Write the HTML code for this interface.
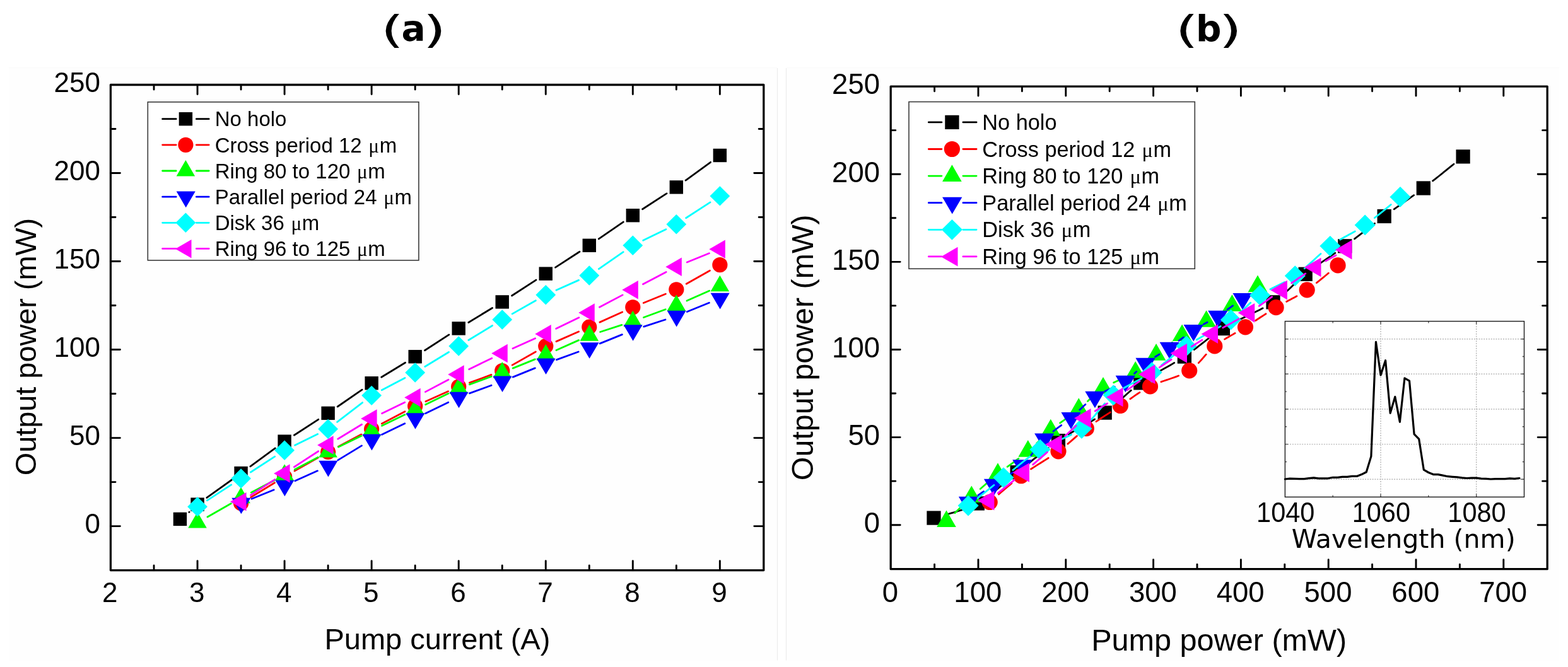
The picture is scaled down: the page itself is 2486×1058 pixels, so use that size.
<!DOCTYPE html>
<html lang="en"><head><meta charset="utf-8"><title>Output power vs pump current and pump power</title>
<style>html,body{margin:0;padding:0;background:#fff;}body{width:2486px;height:1058px;overflow:hidden;}svg{display:block;}text{fill:#000;}</style></head><body>
<svg width="2486" height="1058" viewBox="0 0 2486 1058" role="img" aria-label="Output power versus pump current (a) and pump power (b)">
<rect width="2486" height="1058" fill="#fff"/>
<rect x="14" y="107.5" width="1218.5" height="940" fill="#fefefe"/>
<rect x="1246.5" y="107.5" width="1225" height="940" fill="#fefefe"/>
<path d="M1232.5 108V1047.5M1246.5 108V1047.5" stroke="#ececec" stroke-width="1.2" fill="none"/>
<path d="M14 107.5H1232M1247 107.5H2472" stroke="#fafafa" stroke-width="1" fill="none"/>
<g>
<text transform="translate(603.45 67.88) scale(1.6726 1.0690)" font-family="'DejaVu Sans',sans-serif" font-size="56.6">(</text>
<text x="636.5" y="65.2" font-family="'DejaVu Sans',sans-serif" font-weight="bold" font-size="56.6">a</text>
<text transform="translate(670.53 67.88) scale(1.6726 1.0690)" font-family="'DejaVu Sans',sans-serif" font-size="56.6">)</text>
</g>
<g>
<text transform="translate(1863.35 67.88) scale(1.6726 1.0690)" font-family="'DejaVu Sans',sans-serif" font-size="56.6">(</text>
<text x="1896.1" y="65.2" font-family="'DejaVu Sans',sans-serif" font-weight="bold" font-size="56.6">b</text>
<text transform="translate(1932.33 67.88) scale(1.6726 1.0690)" font-family="'DejaVu Sans',sans-serif" font-size="56.6">)</text>
</g>
<path d="M313.05 904.1V889.6M313.05 135V149.5M451.1 904.1V889.6M451.1 135V149.5M589.15 904.1V889.6M589.15 135V149.5M727.2 904.1V889.6M727.2 135V149.5M865.25 904.1V889.6M865.25 135V149.5M1003.3 904.1V889.6M1003.3 135V149.5M1141.35 904.1V889.6M1141.35 135V149.5M244.03 904.1V897M244.03 135V142.1M382.08 904.1V897M382.08 135V142.1M520.12 904.1V897M520.12 135V142.1M658.18 904.1V897M658.18 135V142.1M796.23 904.1V897M796.23 135V142.1M934.28 904.1V897M934.28 135V142.1M1072.33 904.1V897M1072.33 135V142.1M175.9 834.6H190.4M1210.3 834.6H1195.8M175.9 694.58H190.4M1210.3 694.58H1195.8M175.9 554.55H190.4M1210.3 554.55H1195.8M175.9 414.53H190.4M1210.3 414.53H1195.8M175.9 274.5H190.4M1210.3 274.5H1195.8M175.9 764.59H183M1210.3 764.59H1203.2M175.9 624.56H183M1210.3 624.56H1203.2M175.9 484.54H183M1210.3 484.54H1203.2M175.9 344.51H183M1210.3 344.51H1203.2M175.9 204.49H183M1210.3 204.49H1203.2" stroke="#000" stroke-width="2.9" fill="none" stroke-linecap="round"/>
<rect x="175.4" y="134.5" width="1035.4" height="770.1" fill="none" stroke="#000" stroke-width="3.3" stroke-linejoin="round"/>
<text x="159" y="846.4" font-family="'Liberation Sans',sans-serif" font-size="44" text-anchor="end">0</text>
<text x="159" y="706.38" font-family="'Liberation Sans',sans-serif" font-size="44" text-anchor="end">50</text>
<text x="159" y="566.35" font-family="'Liberation Sans',sans-serif" font-size="44" text-anchor="end">100</text>
<text x="159" y="426.33" font-family="'Liberation Sans',sans-serif" font-size="44" text-anchor="end">150</text>
<text x="159" y="286.3" font-family="'Liberation Sans',sans-serif" font-size="44" text-anchor="end">200</text>
<text x="159" y="146.28" font-family="'Liberation Sans',sans-serif" font-size="44" text-anchor="end">250</text>
<text x="174.2" y="955" font-family="'Liberation Sans',sans-serif" font-size="44" text-anchor="middle">2</text>
<text x="312.25" y="955" font-family="'Liberation Sans',sans-serif" font-size="44" text-anchor="middle">3</text>
<text x="450.3" y="955" font-family="'Liberation Sans',sans-serif" font-size="44" text-anchor="middle">4</text>
<text x="588.35" y="955" font-family="'Liberation Sans',sans-serif" font-size="44" text-anchor="middle">5</text>
<text x="726.4" y="955" font-family="'Liberation Sans',sans-serif" font-size="44" text-anchor="middle">6</text>
<text x="864.45" y="955" font-family="'Liberation Sans',sans-serif" font-size="44" text-anchor="middle">7</text>
<text x="1002.5" y="955" font-family="'Liberation Sans',sans-serif" font-size="44" text-anchor="middle">8</text>
<text x="1140.55" y="955" font-family="'Liberation Sans',sans-serif" font-size="44" text-anchor="middle">9</text>
<text x="693.4" y="1029.6" font-family="'Liberation Sans',sans-serif" font-size="47" text-anchor="middle">Pump current (A)</text>
<g transform="translate(56.7 550) rotate(-90)">
<text x="0" y="0" font-family="'Liberation Sans',sans-serif" font-size="46.8" text-anchor="middle">Output power (mW)</text>
</g>
<path d="M299.85 812.38l0.3 -0.2M327.91 789.48L367.21 761.26M396.85 739.79L436.32 710.97M466.45 690.21L504.78 665.33M535.19 644.98L574.09 618.15M604.78 598.25L642.54 575.27M673.52 555.79L711.85 530.91M742.83 511.43L780.59 488.45M811.57 468.97L849.9 444.09M880.6 424.16L918.93 399.28M949.34 378.93L988.24 352.1M1018.65 331.75L1056.98 306.87M1087.1 286.11L1126.57 257.29" stroke="#000000" stroke-width="2.8" fill="none" stroke-linecap="round"/>
<g><rect x="274.74" y="812.7" width="21.4" height="21.4" fill="#000000"/><rect x="302.35" y="789.45" width="21.4" height="21.4" fill="#000000"/><rect x="371.38" y="739.88" width="21.4" height="21.4" fill="#000000"/><rect x="440.4" y="689.48" width="21.4" height="21.4" fill="#000000"/><rect x="509.43" y="644.67" width="21.4" height="21.4" fill="#000000"/><rect x="578.45" y="597.06" width="21.4" height="21.4" fill="#000000"/><rect x="647.48" y="555.05" width="21.4" height="21.4" fill="#000000"/><rect x="716.5" y="510.24" width="21.4" height="21.4" fill="#000000"/><rect x="785.52" y="468.24" width="21.4" height="21.4" fill="#000000"/><rect x="854.55" y="423.43" width="21.4" height="21.4" fill="#000000"/><rect x="923.58" y="378.62" width="21.4" height="21.4" fill="#000000"/><rect x="992.6" y="331.01" width="21.4" height="21.4" fill="#000000"/><rect x="1061.62" y="286.2" width="21.4" height="21.4" fill="#000000"/><rect x="1130.65" y="235.8" width="21.4" height="21.4" fill="#000000"/></g>
<path d="M397.71 788.68L435.47 765.7M467.01 747.15L504.21 726.02M536.31 708.44L572.96 689.11M605.34 672.04L641.99 652.7M674.89 636.71L710.49 620.82M744.39 607.08L779.04 594.43M812.14 579.12L849.34 557.99M882.01 541.6L917.51 526.05M950.94 511.13L986.64 494.91M1020.26 480.46L1055.37 466.21M1088.24 450.29L1125.44 429.16" stroke="#ff0000" stroke-width="2.8" fill="none" stroke-linecap="round"/>
<g><circle cx="382.08" cy="798.19" r="12.1" fill="#ff0000"/><circle cx="451.1" cy="756.19" r="12.1" fill="#ff0000"/><circle cx="520.12" cy="716.98" r="12.1" fill="#ff0000"/><circle cx="589.15" cy="680.57" r="12.1" fill="#ff0000"/><circle cx="658.18" cy="644.17" r="12.1" fill="#ff0000"/><circle cx="727.2" cy="613.36" r="12.1" fill="#ff0000"/><circle cx="796.23" cy="588.16" r="12.1" fill="#ff0000"/><circle cx="865.25" cy="548.95" r="12.1" fill="#ff0000"/><circle cx="934.28" cy="518.7" r="12.1" fill="#ff0000"/><circle cx="1003.3" cy="487.34" r="12.1" fill="#ff0000"/><circle cx="1072.33" cy="459.33" r="12.1" fill="#ff0000"/><circle cx="1141.35" cy="420.13" r="12.1" fill="#ff0000"/></g>
<path d="M328.96 819.96L366.16 798.83M398.26 781.25L434.91 761.92M467.29 744.85L503.94 725.52M536.58 708.97L572.7 691.38M605.6 675.36L641.72 657.78M674.63 641.76L710.75 624.17M744.39 609.88L779.04 597.23M813.18 584.08L848.29 569.83M881.96 555.49L917.56 539.6M951.68 526.5L985.89 515.39M1020.49 503.47L1055.14 490.81M1089.04 477.08L1124.64 461.19" stroke="#00ff00" stroke-width="2.8" fill="none" stroke-linecap="round"/>
<g><polygon points="313.05,811.93 327.8,837.53 298.3,837.53" fill="#00ff00"/><polygon points="382.08,772.73 396.83,798.33 367.33,798.33" fill="#00ff00"/><polygon points="451.1,736.32 465.85,761.92 436.35,761.92" fill="#00ff00"/><polygon points="520.12,699.91 534.88,725.51 505.38,725.51" fill="#00ff00"/><polygon points="589.15,666.31 603.9,691.91 574.4,691.91" fill="#00ff00"/><polygon points="658.18,632.7 672.93,658.3 643.43,658.3" fill="#00ff00"/><polygon points="727.2,599.09 741.95,624.69 712.45,624.69" fill="#00ff00"/><polygon points="796.23,573.89 810.98,599.49 781.48,599.49" fill="#00ff00"/><polygon points="865.25,545.88 880,571.48 850.5,571.48" fill="#00ff00"/><polygon points="934.28,515.08 949.03,540.68 919.53,540.68" fill="#00ff00"/><polygon points="1003.3,492.68 1018.05,518.28 988.55,518.28" fill="#00ff00"/><polygon points="1072.33,467.47 1087.08,493.07 1057.58,493.07" fill="#00ff00"/><polygon points="1141.35,436.67 1156.1,462.27 1126.6,462.27" fill="#00ff00"/></g>
<path d="M399.03 791.31L434.14 777.07M467.81 762.73L503.41 746.84M535.76 729.87L573.52 706.89M605.6 689.36L641.72 671.78M674.63 655.76L710.75 638.17M744.39 623.89L779.04 611.24M813.18 598.08L848.29 583.83M882.44 570.68L917.09 558.03M951.23 544.87L986.34 530.62M1020.71 518.09L1054.92 506.99M1089.28 494.46L1124.39 480.22" stroke="#0000ff" stroke-width="2.8" fill="none" stroke-linecap="round"/>
<g><polygon points="382.38,815.26 397.43,789.66 367.33,789.66" fill="#0000ff"/><polygon points="451.4,787.26 466.45,761.66 436.35,761.66" fill="#0000ff"/><polygon points="520.42,756.45 535.47,730.85 505.37,730.85" fill="#0000ff"/><polygon points="589.45,714.44 604.5,688.84 574.4,688.84" fill="#0000ff"/><polygon points="658.48,680.84 673.52,655.24 643.43,655.24" fill="#0000ff"/><polygon points="727.5,647.23 742.55,621.63 712.45,621.63" fill="#0000ff"/><polygon points="796.52,622.03 811.57,596.43 781.48,596.43" fill="#0000ff"/><polygon points="865.55,594.02 880.6,568.42 850.5,568.42" fill="#0000ff"/><polygon points="934.58,568.82 949.62,543.22 919.53,543.22" fill="#0000ff"/><polygon points="1003.6,540.81 1018.65,515.21 988.55,515.21" fill="#0000ff"/><polygon points="1072.62,518.41 1087.67,492.81 1057.58,492.81" fill="#0000ff"/><polygon points="1141.65,490.4 1156.7,464.8 1126.6,464.8" fill="#0000ff"/></g>
<path d="M328.4 793.83L366.73 768.95M397.42 749.02L435.75 724.14M467.55 706.17L503.67 688.58M534.62 669.4L574.66 638.54M605.34 618.83L641.99 599.49M673.81 581.44L711.57 558.46M742.83 539.44L780.59 516.46M812.14 497.9L849.34 476.77M881.96 460.28L917.56 444.39M949.34 426.54L988.24 399.71M1019.75 381.31L1055.87 363.73M1087.67 345.75L1126 320.87" stroke="#00ffff" stroke-width="2.8" fill="none" stroke-linecap="round"/>
<g><polygon points="313.05,788.09 328.95,803.79 313.05,819.49 297.15,803.79" fill="#00ffff"/><polygon points="382.08,743.29 397.98,758.99 382.08,774.69 366.18,758.99" fill="#00ffff"/><polygon points="451.1,698.48 467,714.18 451.1,729.88 435.2,714.18" fill="#00ffff"/><polygon points="520.12,664.87 536.02,680.57 520.12,696.27 504.23,680.57" fill="#00ffff"/><polygon points="589.15,611.66 605.05,627.36 589.15,643.06 573.25,627.36" fill="#00ffff"/><polygon points="658.18,575.26 674.08,590.96 658.18,606.66 642.28,590.96" fill="#00ffff"/><polygon points="727.2,533.25 743.1,548.95 727.2,564.65 711.3,548.95" fill="#00ffff"/><polygon points="796.23,491.24 812.12,506.94 796.23,522.64 780.33,506.94" fill="#00ffff"/><polygon points="865.25,452.03 881.15,467.73 865.25,483.43 849.35,467.73" fill="#00ffff"/><polygon points="934.28,421.23 950.18,436.93 934.28,452.63 918.38,436.93" fill="#00ffff"/><polygon points="1003.3,373.62 1019.2,389.32 1003.3,405.02 987.4,389.32" fill="#00ffff"/><polygon points="1072.33,340.01 1088.23,355.71 1072.33,371.41 1056.42,355.71" fill="#00ffff"/><polygon points="1141.35,295.21 1157.25,310.91 1141.35,326.61 1125.45,310.91" fill="#00ffff"/></g>
<path d="M397.42 785.43L435.75 760.55M466.45 740.62L504.78 715.74M535.76 696.26L573.52 673.28M605.6 655.76L641.72 638.17M674.36 621.63L711.01 602.29M743.65 585.75L779.77 568.16M812.94 552.69L848.54 536.8M881.7 521.33L917.82 503.75M950.46 487.2L987.11 467.87M1019.49 450.8L1056.14 431.46M1089.28 416.05L1124.39 401.8" stroke="#ff00ff" stroke-width="2.8" fill="none" stroke-linecap="round"/>
<g><polygon points="365.07,795.69 390.57,780.94 390.57,810.44" fill="#ff00ff"/><polygon points="434.09,750.88 459.59,736.13 459.59,765.63" fill="#ff00ff"/><polygon points="503.12,706.08 528.62,691.33 528.62,720.83" fill="#ff00ff"/><polygon points="572.14,664.07 597.64,649.32 597.64,678.82" fill="#ff00ff"/><polygon points="641.17,630.46 666.67,615.71 666.67,645.21" fill="#ff00ff"/><polygon points="710.19,594.06 735.69,579.31 735.69,608.81" fill="#ff00ff"/><polygon points="779.22,560.45 804.72,545.7 804.72,575.2" fill="#ff00ff"/><polygon points="848.24,529.65 873.74,514.9 873.74,544.4" fill="#ff00ff"/><polygon points="917.27,496.04 942.77,481.29 942.77,510.79" fill="#ff00ff"/><polygon points="986.29,459.63 1011.79,444.88 1011.79,474.38" fill="#ff00ff"/><polygon points="1055.32,423.23 1080.82,408.48 1080.82,437.98" fill="#ff00ff"/><polygon points="1124.34,395.22 1149.84,380.47 1149.84,409.97" fill="#ff00ff"/></g>
<rect x="234.3" y="161.8" width="429.6" height="251.1" fill="#fff" stroke="#3a3a3a" stroke-width="1.6"/>
<path d="M257.6 188.7H279.2M311.3 188.7H331.2" stroke="#000000" stroke-width="2.8" fill="none" stroke-linecap="round"/>
<rect x="283.7" y="178" width="21.4" height="21.4" fill="#000000"/>
<text transform="translate(340.7 200.4) scale(1 1.0000)" font-family="'Liberation Sans',sans-serif" font-size="33" xml:space="preserve">No holo</text>
<path d="M257.6 229.85H279.2M311.3 229.85H331.2" stroke="#ff0000" stroke-width="2.8" fill="none" stroke-linecap="round"/>
<circle cx="294.4" cy="229.85" r="12.1" fill="#ff0000"/>
<text transform="translate(340.7 241.55) scale(1 1.0000)" font-family="'Liberation Sans',sans-serif" font-size="33" xml:space="preserve">Cross period 12 <tspan dx="1.5" font-family="'Liberation Serif','DejaVu Serif',serif" font-size="31.35">μ</tspan><tspan dx="0.5">m</tspan></text>
<path d="M257.6 271H279.2M311.3 271H331.2" stroke="#00ff00" stroke-width="2.8" fill="none" stroke-linecap="round"/>
<polygon points="294.4,253.93 309.15,279.53 279.65,279.53" fill="#00ff00"/>
<text transform="translate(340.7 282.7) scale(1 1.0000)" font-family="'Liberation Sans',sans-serif" font-size="33" xml:space="preserve">Ring 80 to 120 <tspan dx="1.5" font-family="'Liberation Serif','DejaVu Serif',serif" font-size="31.35">μ</tspan><tspan dx="0.5">m</tspan></text>
<path d="M257.6 312.15H279.2M311.3 312.15H331.2" stroke="#0000ff" stroke-width="2.8" fill="none" stroke-linecap="round"/>
<polygon points="294.7,329.22 309.75,303.62 279.65,303.62" fill="#0000ff"/>
<text transform="translate(340.7 323.85) scale(1 1.0000)" font-family="'Liberation Sans',sans-serif" font-size="33" xml:space="preserve">Parallel period 24 <tspan dx="1.5" font-family="'Liberation Serif','DejaVu Serif',serif" font-size="31.35">μ</tspan><tspan dx="0.5">m</tspan></text>
<path d="M257.6 353.3H279.2M311.3 353.3H331.2" stroke="#00ffff" stroke-width="2.8" fill="none" stroke-linecap="round"/>
<polygon points="294.4,337.6 310.3,353.3 294.4,369 278.5,353.3" fill="#00ffff"/>
<text transform="translate(340.7 365) scale(1 1.0000)" font-family="'Liberation Sans',sans-serif" font-size="33" xml:space="preserve">Disk 36 <tspan dx="1.5" font-family="'Liberation Serif','DejaVu Serif',serif" font-size="31.35">μ</tspan><tspan dx="0.5">m</tspan></text>
<path d="M257.6 394.45H279.2M311.3 394.45H331.2" stroke="#ff00ff" stroke-width="2.8" fill="none" stroke-linecap="round"/>
<polygon points="277.99,394.75 303.49,380 303.49,409.5" fill="#ff00ff"/>
<text transform="translate(340.7 406.15) scale(1 1.0000)" font-family="'Liberation Sans',sans-serif" font-size="33" xml:space="preserve">Ring 96 to 125 <tspan dx="1.5" font-family="'Liberation Serif','DejaVu Serif',serif" font-size="31.35">μ</tspan><tspan dx="0.5">m</tspan></text>
<path d="M1551 902.2V887.7M1551 137.6V152.1M1689.8 902.2V887.7M1689.8 137.6V152.1M1828.6 902.2V887.7M1828.6 137.6V152.1M1967.4 902.2V887.7M1967.4 137.6V152.1M2106.2 902.2V887.7M2106.2 137.6V152.1M2245 902.2V887.7M2245 137.6V152.1M2383.8 902.2V887.7M2383.8 137.6V152.1M1481.6 902.2V895.1M1481.6 137.6V144.7M1620.4 902.2V895.1M1620.4 137.6V144.7M1759.2 902.2V895.1M1759.2 137.6V144.7M1898 902.2V895.1M1898 137.6V144.7M2036.8 902.2V895.1M2036.8 137.6V144.7M2175.6 902.2V895.1M2175.6 137.6V144.7M2314.4 902.2V895.1M2314.4 137.6V144.7M1412.7 832.7H1427.2M2452.7 832.7H2438.2M1412.7 693.58H1427.2M2452.7 693.58H2438.2M1412.7 554.46H1427.2M2452.7 554.46H2438.2M1412.7 415.34H1427.2M2452.7 415.34H2438.2M1412.7 276.22H1427.2M2452.7 276.22H2438.2M1412.7 763.14H1419.8M2452.7 763.14H2445.6M1412.7 624.02H1419.8M2452.7 624.02H2445.6M1412.7 484.9H1419.8M2452.7 484.9H2445.6M1412.7 345.78H1419.8M2452.7 345.78H2445.6M1412.7 206.66H1419.8M2452.7 206.66H2445.6" stroke="#000" stroke-width="2.9" fill="none" stroke-linecap="round"/>
<rect x="1412.2" y="137.1" width="1041" height="765.6" fill="none" stroke="#000" stroke-width="3.3" stroke-linejoin="round"/>
<text x="1395" y="845" font-family="'Liberation Sans',sans-serif" font-size="45.5" text-anchor="end">0</text>
<text x="1395" y="705.88" font-family="'Liberation Sans',sans-serif" font-size="45.5" text-anchor="end">50</text>
<text x="1395" y="566.76" font-family="'Liberation Sans',sans-serif" font-size="45.5" text-anchor="end">100</text>
<text x="1395" y="427.64" font-family="'Liberation Sans',sans-serif" font-size="45.5" text-anchor="end">150</text>
<text x="1395" y="288.52" font-family="'Liberation Sans',sans-serif" font-size="45.5" text-anchor="end">200</text>
<text x="1395" y="149.4" font-family="'Liberation Sans',sans-serif" font-size="45.5" text-anchor="end">250</text>
<text x="1411.5" y="954.6" font-family="'Liberation Sans',sans-serif" font-size="45.5" text-anchor="middle">0</text>
<text x="1550.3" y="954.6" font-family="'Liberation Sans',sans-serif" font-size="45.5" text-anchor="middle">100</text>
<text x="1689.1" y="954.6" font-family="'Liberation Sans',sans-serif" font-size="45.5" text-anchor="middle">200</text>
<text x="1827.9" y="954.6" font-family="'Liberation Sans',sans-serif" font-size="45.5" text-anchor="middle">300</text>
<text x="1966.7" y="954.6" font-family="'Liberation Sans',sans-serif" font-size="45.5" text-anchor="middle">400</text>
<text x="2105.5" y="954.6" font-family="'Liberation Sans',sans-serif" font-size="45.5" text-anchor="middle">500</text>
<text x="2244.3" y="954.6" font-family="'Liberation Sans',sans-serif" font-size="45.5" text-anchor="middle">600</text>
<text x="2383.1" y="954.6" font-family="'Liberation Sans',sans-serif" font-size="45.5" text-anchor="middle">700</text>
<text x="1932.65" y="1032" font-family="'Liberation Sans',sans-serif" font-size="48.6" text-anchor="middle">Pump power (mW)</text>
<g transform="translate(1288.5 551.25) rotate(-90)">
<text x="0" y="0" font-family="'Liberation Sans',sans-serif" font-size="48.37" text-anchor="middle">Output power (mW)</text>
</g>
<path d="M1499 816.47L1503.54 815.25L1508.29 813.94L1513.2 812.53L1518.21 811.02L1523.26 809.41L1528.3 807.7L1532.29 806.26M1565.92 788.02L1569.85 785.05L1573.76 781.96L1577.64 778.79L1581.51 775.54L1585.37 772.24L1589.23 768.91L1593.09 765.56L1596.96 762.21L1598.13 761.21M1627.84 737.27L1631.82 734.09L1635.81 730.9L1639.8 727.71L1643.81 724.53L1647.85 721.35L1651.9 718.19L1655.99 715.04L1660.11 711.92L1662.19 710.36M1693.79 689.09L1698.52 686.3L1703.3 683.54L1708.11 680.8L1712.93 678.07L1717.74 675.35L1722.53 672.64L1727.27 669.92L1731.95 667.19L1735.63 665M1766.75 642.87L1770.22 639.86L1773.61 636.85L1776.95 633.83L1780.26 630.8L1783.56 627.78L1786.88 624.78L1790.23 621.79L1793.29 619.12M1824.12 597.09L1828.5 594.48L1832.93 591.9L1837.41 589.34L1841.92 586.79L1846.44 584.25L1850.96 581.71L1855.45 579.16L1859.91 576.6L1861.68 575.57M1893.32 554.59L1896.97 551.79L1900.59 548.98L1904.18 546.16L1907.78 543.33L1911.39 540.51L1915.04 537.68L1918.75 534.87L1922.54 532.07L1922.93 531.79M1955.6 511.81L1960.74 509.21L1965.99 506.63L1971.3 504.05L1976.64 501.49L1981.98 498.92L1987.28 496.35L1992.52 493.78L1997.65 491.2L2002.14 488.86M2033.68 467.85L2036.84 465.07L2039.88 462.29L2042.84 459.49L2045.74 456.69L2048.61 453.88L2051.49 451.07L2054.4 448.26L2055.28 447.42M2084.94 423.48L2088.82 420.72L2092.74 417.97L2096.71 415.21L2100.7 412.46L2104.71 409.69L2108.74 406.92L2112.77 404.14L2116.8 401.34M2147.53 378.9L2151.43 375.93L2155.34 372.94L2159.24 369.95L2163.14 366.95L2167.04 363.95L2170.94 360.95L2174.84 357.97L2178.74 354.99L2179.52 354.4M2210.23 331.8L2214.1 329.07L2217.98 326.34L2221.85 323.63L2225.72 320.91L2229.6 318.19L2233.47 315.46L2237.35 312.71L2241.23 309.93L2241.62 309.66M2271.66 286.96L2276.2 283.37L2280.77 279.73L2285.34 276.08L2289.86 272.45L2294.28 268.88L2298.55 265.43L2302.63 262.12L2304.97 260.22" stroke="#000000" stroke-width="2.8" fill="none" stroke-linejoin="round" stroke-linecap="round"/>
<g><rect x="1469.37" y="810.44" width="22.26" height="22.26" fill="#000000"/><rect x="1538.67" y="787.35" width="22.26" height="22.26" fill="#000000"/><rect x="1601.57" y="738.1" width="22.26" height="22.26" fill="#000000"/><rect x="1666.77" y="688.02" width="22.26" height="22.26" fill="#000000"/><rect x="1740.57" y="643.5" width="22.26" height="22.26" fill="#000000"/><rect x="1797.17" y="596.2" width="22.26" height="22.26" fill="#000000"/><rect x="1866.77" y="554.46" width="22.26" height="22.26" fill="#000000"/><rect x="1927.77" y="509.94" width="22.26" height="22.26" fill="#000000"/><rect x="2007.37" y="468.21" width="22.26" height="22.26" fill="#000000"/><rect x="2058.57" y="423.69" width="22.26" height="22.26" fill="#000000"/><rect x="2121.17" y="379.17" width="22.26" height="22.26" fill="#000000"/><rect x="2183.57" y="331.87" width="22.26" height="22.26" fill="#000000"/><rect x="2245.67" y="287.35" width="22.26" height="22.26" fill="#000000"/><rect x="2308.47" y="237.27" width="22.26" height="22.26" fill="#000000"/></g>
<path d="M1583.47 784.09L1586.67 781.29L1590.01 778.39L1593.48 775.41L1597.03 772.38L1600.64 769.33L1603.92 766.61M1634.5 744.05L1638.32 741.58L1642.19 739.12L1646.07 736.68L1649.95 734.24L1653.82 731.81L1657.65 729.4L1661.44 726.99L1662.19 726.51M1692.88 704.1L1695.53 701.85L1698.14 699.6L1700.73 697.36L1703.3 695.12L1705.89 692.89L1707.45 691.55M1738 668.64L1741.45 666.32L1744.92 664.01L1748.42 661.7L1751.92 659.4L1755.42 657.11L1758.91 654.84L1760.29 653.94M1791.89 632.74L1794.67 630.78L1797.44 628.84L1800.22 626.93L1803.02 625.03L1805.86 623.16L1807 622.41M1840.94 605.69L1845.04 604.27L1849.19 602.86L1853.37 601.46L1857.55 600.04L1861.69 598.6L1865.78 597.12L1868.59 596.05M1900.3 575.65L1902.68 573.1L1905 570.51L1907.27 567.9L1909.53 565.29L1911.78 562.68L1912.24 562.17M1941.6 538.14L1944.67 536.29L1947.75 534.47L1950.86 532.66L1953.99 530.88L1957.12 529.09L1958.06 528.56M1990.59 508.48L1993.62 506.5L1996.65 504.51L1999.68 502.53L2002.72 500.55L2005.75 498.58L2006.97 497.8M2039.64 478.46L2042.71 476.85L2045.79 475.23L2048.86 473.61L2051.94 471.96L2055.01 470.29L2055.93 469.78M2087.36 448.6L2090.92 445.78L2094.48 442.92L2097.99 440.06L2101.42 437.24L2104.75 434.49L2106.35 433.15" stroke="#ff0000" stroke-width="2.8" fill="none" stroke-linejoin="round" stroke-linecap="round"/>
<g><circle cx="1569.2" cy="796.53" r="12.58" fill="#ff0000"/><circle cx="1618.9" cy="754.79" r="12.58" fill="#ff0000"/><circle cx="1678" cy="715.84" r="12.58" fill="#ff0000"/><circle cx="1722.3" cy="679.67" r="12.58" fill="#ff0000"/><circle cx="1776.3" cy="643.5" r="12.58" fill="#ff0000"/><circle cx="1823.5" cy="612.89" r="12.58" fill="#ff0000"/><circle cx="1885.7" cy="587.85" r="12.58" fill="#ff0000"/><circle cx="1925.8" cy="548.9" r="12.58" fill="#ff0000"/><circle cx="1974.5" cy="518.85" r="12.58" fill="#ff0000"/><circle cx="2023.1" cy="487.68" r="12.58" fill="#ff0000"/><circle cx="2072.2" cy="459.86" r="12.58" fill="#ff0000"/><circle cx="2121.1" cy="420.9" r="12.58" fill="#ff0000"/></g>
<path d="M1513.99 813.7L1516.69 811.02L1519.48 808.25L1522.33 805.43L1525.23 802.59L1526.68 801.17M1554.26 775.54L1556.81 773.29L1559.37 771.04L1561.94 768.8L1564.53 766.57L1567.14 764.34L1567.4 764.11M1597.19 740.38L1600.31 738.1L1603.44 735.81L1606.57 733.52L1609.69 731.24L1612.78 728.97L1614.92 727.39M1643.79 703.11L1645.91 701.04L1648.01 698.97L1650.1 696.91L1651.77 695.26M1680.69 670.97L1683.55 668.89L1686.44 666.8L1689.33 664.71L1692.22 662.63L1695.1 660.54M1724.46 636.39L1726.73 634.22L1729 632.06L1731.29 629.92L1733.59 627.79L1734.06 627.37M1765.71 606.86L1769.12 605.34L1772.55 603.84L1775.99 602.36L1779.42 600.89L1782.8 599.42L1783.14 599.27M1815.23 578.97L1817.1 577.24L1818.94 575.5M1848.01 551.17L1850.63 549.16L1853.27 547.16L1855.92 545.16L1858.58 543.19M1890.31 522.43L1892.67 521.12L1895.04 519.81L1895.99 519.29M1929.02 500.24L1931.58 498.71L1934.15 497.17L1936.72 495.61L1937.5 495.14M1968.65 473.83L1971.6 471.59L1974.52 469.36L1977.38 467.16L1979.06 465.87" stroke="#00ff00" stroke-width="2.8" fill="none" stroke-linejoin="round" stroke-linecap="round"/>
<g><polygon points="1500.5,809.39 1515.84,836.01 1485.16,836.01" fill="#00ff00"/><polygon points="1540.3,770.43 1555.64,797.06 1524.96,797.06" fill="#00ff00"/><polygon points="1582,734.26 1597.34,760.89 1566.66,760.89" fill="#00ff00"/><polygon points="1629.8,698.09 1645.14,724.71 1614.46,724.71" fill="#00ff00"/><polygon points="1665.8,664.7 1681.14,691.33 1650.46,691.33" fill="#00ff00"/><polygon points="1710.3,631.31 1725.64,657.94 1694.96,657.94" fill="#00ff00"/><polygon points="1749,597.92 1764.34,624.55 1733.66,624.55" fill="#00ff00"/><polygon points="1800.2,572.88 1815.54,599.51 1784.86,599.51" fill="#00ff00"/><polygon points="1833.1,545.06 1848.44,571.68 1817.76,571.68" fill="#00ff00"/><polygon points="1874.14,514.45 1889.48,541.08 1858.8,541.08" fill="#00ff00"/><polygon points="1912.6,492.19 1927.94,518.82 1897.26,518.82" fill="#00ff00"/><polygon points="1953.4,467.15 1968.74,493.77 1938.06,493.77" fill="#00ff00"/><polygon points="1994,436.54 2009.34,463.17 1978.66,463.17" fill="#00ff00"/></g>
<path d="M1550.77 785.68L1553.54 783.75L1556.38 781.77L1559.28 779.76L1559.58 779.55M1591.18 758.64L1594.14 756.83L1597.09 755.01L1600.04 753.16L1602.98 751.28L1605.6 749.55M1633.29 723.98L1635.37 721.26L1637.42 718.51L1639.46 715.75L1641.51 712.99L1643.15 710.8M1669.93 684.06L1672.64 682L1675.37 679.96L1678.11 677.94L1680.84 675.93L1682.76 674.53M1711.87 650.09L1714.11 647.92L1716.36 645.76L1718.62 643.61L1720.9 641.49M1752.15 620.47L1755.37 618.95L1758.6 617.46L1761.83 615.98L1765.04 614.51L1767.26 613.48M1798.53 592.59L1800.35 590.81L1801.79 589.38M1831.6 566.03L1834.02 564.5L1836.47 562.98L1838.18 561.91M1869.19 540.48L1871.55 538.67L1873.92 536.87L1876.29 535.07L1876.53 534.89M1908.33 514.29L1910.74 512.98L1913.16 511.68L1914.12 511.16M1946.12 490.96L1948.97 488.92L1951.78 486.89L1954.53 484.9" stroke="#0000ff" stroke-width="2.8" fill="none" stroke-linejoin="round" stroke-linecap="round"/>
<g><polygon points="1535.5,814.28 1551.15,787.65 1519.85,787.65" fill="#0000ff"/><polygon points="1575.6,786.45 1591.25,759.83 1559.95,759.83" fill="#0000ff"/><polygon points="1620.9,755.85 1636.55,729.22 1605.25,729.22" fill="#0000ff"/><polygon points="1655.8,714.11 1671.45,687.49 1640.15,687.49" fill="#0000ff"/><polygon points="1698.1,680.72 1713.75,654.1 1682.45,654.1" fill="#0000ff"/><polygon points="1735.97,647.33 1751.62,620.71 1720.32,620.71" fill="#0000ff"/><polygon points="1784.3,622.29 1799.95,595.67 1768.65,595.67" fill="#0000ff"/><polygon points="1816.1,594.47 1831.75,567.84 1800.45,567.84" fill="#0000ff"/><polygon points="1854.3,569.43 1869.95,542.8 1838.65,542.8" fill="#0000ff"/><polygon points="1892.3,541.6 1907.95,514.98 1876.65,514.98" fill="#0000ff"/><polygon points="1930.9,519.34 1946.55,492.72 1915.25,492.72" fill="#0000ff"/><polygon points="1970.1,491.52 1985.75,464.9 1954.45,464.9" fill="#0000ff"/></g>
<path d="M1550.1 790.09L1553.7 787.2L1557.48 784.17L1561.4 781.04L1565.4 777.84L1569.46 774.6L1573.54 771.36L1575.97 769.43M1605.87 745.61L1609.41 742.71L1612.96 739.81L1616.52 736.92L1620.09 734.05L1623.69 731.2L1627.31 728.37L1630.95 725.59L1633.16 723.95M1665.71 704.19L1669.96 702.26L1674.25 700.39L1678.56 698.54L1682.86 696.7L1687.15 694.84L1691.41 692.93L1695.61 690.97L1698.51 689.54M1728.95 666.76L1732.03 663.33L1735.04 659.83L1738.01 656.27L1740.95 652.69L1743.89 649.11L1746.84 645.55L1749.83 642.05L1751.64 639.98M1780.95 616.03L1784.8 613.79L1788.68 611.61L1792.59 609.49L1796.52 607.4L1800.46 605.32L1804.38 603.25L1808.29 601.16L1809.85 600.31M1841.5 579.3L1844.78 576.7L1848.04 574.07L1851.3 571.44L1854.56 568.78L1857.86 566.12L1861.19 563.46L1864.59 560.79L1865.62 559.99M1897.19 538.92L1901.77 536.29L1906.43 533.65L1911.14 531.01L1915.86 528.38L1920.57 525.75L1925.24 523.13L1929.84 520.52L1934.34 517.92L1935.23 517.4M1966.54 495.26L1969.33 492.74L1972.04 490.23L1974.69 487.73L1977.3 485.26L1979.9 482.81L1982.51 480.39L1982.78 480.15M2013.95 458.76L2017.44 457.02L2020.96 455.31L2024.5 453.6L2028.06 451.87L2031.64 450.11L2035.22 448.3L2037.01 447.37M2068.26 425.72L2071.74 422.66L2075.21 419.53L2078.69 416.36L2082.17 413.16L2085.64 409.97L2089.12 406.8L2092.59 403.68L2093.98 402.45M2124.81 380.01L2128.26 378.03L2131.71 376.09L2135.16 374.19L2138.61 372.3L2142.06 370.4L2145.51 368.48L2148.27 366.91M2179.42 345.52L2183.47 342.33L2187.54 339.07L2191.58 335.81L2195.56 332.56L2199.42 329.39L2203.14 326.31L2205.28 324.54" stroke="#00ffff" stroke-width="2.8" fill="none" stroke-linejoin="round" stroke-linecap="round"/>
<g><polygon points="1535.1,785.77 1551.64,802.09 1535.1,818.42 1518.56,802.09" fill="#00ffff"/><polygon points="1591,741.25 1607.54,757.58 1591,773.9 1574.46,757.58" fill="#00ffff"/><polygon points="1649,696.73 1665.54,713.06 1649,729.38 1632.46,713.06" fill="#00ffff"/><polygon points="1714.9,663.34 1731.44,679.67 1714.9,696 1698.36,679.67" fill="#00ffff"/><polygon points="1765.2,610.47 1781.74,626.8 1765.2,643.13 1748.66,626.8" fill="#00ffff"/><polygon points="1826.06,574.3 1842.6,590.63 1826.06,606.96 1809.52,590.63" fill="#00ffff"/><polygon points="1881,532.57 1897.54,548.9 1881,565.22 1864.46,548.9" fill="#00ffff"/><polygon points="1951.5,490.83 1968.04,507.16 1951.5,523.49 1934.96,507.16" fill="#00ffff"/><polygon points="1997.6,451.88 2014.14,468.21 1997.6,484.53 1981.06,468.21" fill="#00ffff"/><polygon points="2053.3,421.27 2069.84,437.6 2053.3,453.93 2036.76,437.6" fill="#00ffff"/><polygon points="2108.9,373.97 2125.44,390.3 2108.9,406.63 2092.36,390.3" fill="#00ffff"/><polygon points="2164.2,340.58 2180.74,356.91 2164.2,373.24 2147.66,356.91" fill="#00ffff"/><polygon points="2220,296.06 2236.54,312.39 2220,328.72 2203.46,312.39" fill="#00ffff"/></g>
<path d="M1582.3 782.02L1585.93 779.14L1589.74 776.13L1593.67 773.01L1597.68 769.82L1601.73 766.58L1605.78 763.34L1608.19 761.4M1637.71 736.91L1640.99 734.1L1644.25 731.29L1647.5 728.48L1650.73 725.67L1653.95 722.88L1657.14 720.09L1660.31 717.31M1688.67 691.72L1691.5 689.03L1694.32 686.34L1697.12 683.68L1699.92 681.03L1702.73 678.41L1705.55 675.82L1706.11 675.31M1736.28 652.02L1739.47 649.96L1742.68 647.94L1745.91 645.93L1749.14 643.94L1752.37 641.94L1755.61 639.94M1787.28 618.62L1790.46 616.33L1793.63 614.03L1796.81 611.73L1799.98 609.43L1803.16 607.13L1806.33 604.83L1806.96 604.38M1838.38 582.68L1841.56 580.57L1844.73 578.46L1847.91 576.37L1851.08 574.29L1854.24 572.22L1857.09 570.37M1889.14 549.78L1892.11 547.9L1895.09 546.03L1898.07 544.16L1901.07 542.29L1904.1 540.41L1905.93 539.28M1938.83 519.9L1942.53 517.84L1946.26 515.78L1950.02 513.7L1953.78 511.61L1957.53 509.51L1961.28 507.4L1964.25 505.7M1996.3 485.38L1999.51 483.12L2002.69 480.85L2005.86 478.57L2009.01 476.29L2012.16 474L2015.32 471.71L2016.58 470.8M2047.74 448.98L2051.14 446.63L2054.54 444.29L2057.94 441.95L2061.34 439.63L2064.73 437.33L2068.11 435.05L2069.8 433.93M2101.82 414.05L2105.4 412.02L2108.94 410.03L2112.42 408.08L2115.81 406.21L2118.11 404.94" stroke="#ff00ff" stroke-width="2.8" fill="none" stroke-linejoin="round" stroke-linecap="round"/>
<g><polygon points="1549.86,794.05 1576.38,778.71 1576.38,809.39" fill="#ff00ff"/><polygon points="1605.46,749.53 1631.98,734.19 1631.98,764.87" fill="#ff00ff"/><polygon points="1656.96,705.01 1683.48,689.67 1683.48,720.35" fill="#ff00ff"/><polygon points="1703.06,663.27 1729.58,647.93 1729.58,678.61" fill="#ff00ff"/><polygon points="1754.06,629.88 1780.58,614.54 1780.58,645.22" fill="#ff00ff"/><polygon points="1804.86,593.71 1831.38,578.37 1831.38,609.05" fill="#ff00ff"/><polygon points="1855.46,560.32 1881.98,544.98 1881.98,575.66" fill="#ff00ff"/><polygon points="1904.56,529.72 1931.08,514.38 1931.08,545.06" fill="#ff00ff"/><polygon points="1962.76,496.33 1989.28,480.99 1989.28,511.67" fill="#ff00ff"/><polygon points="2014.36,460.16 2040.88,444.82 2040.88,475.5" fill="#ff00ff"/><polygon points="2067.96,423.99 2094.48,408.65 2094.48,439.33" fill="#ff00ff"/><polygon points="2116.96,396.16 2143.48,380.82 2143.48,411.5" fill="#ff00ff"/></g>
<rect x="1441" y="161.5" width="453.3" height="264.8" fill="#fff" stroke="#3a3a3a" stroke-width="1.6"/>
<path d="M1472.3 193.9H1492.95M1526.9 193.9H1548.1" stroke="#000000" stroke-width="2.8" fill="none" stroke-linecap="round"/>
<rect x="1498.27" y="182.77" width="22.26" height="22.26" fill="#000000"/>
<text transform="translate(1557.3 205.9) scale(1 1.0000)" font-family="'Liberation Sans',sans-serif" font-size="34.3" xml:space="preserve">No holo</text>
<path d="M1472.3 236.5H1492.95M1526.9 236.5H1548.1" stroke="#ff0000" stroke-width="2.8" fill="none" stroke-linecap="round"/>
<circle cx="1509.4" cy="236.5" r="12.58" fill="#ff0000"/>
<text transform="translate(1557.3 248.5) scale(1 1.0000)" font-family="'Liberation Sans',sans-serif" font-size="34.3" xml:space="preserve">Cross period 12 <tspan dx="1.5" font-family="'Liberation Serif','DejaVu Serif',serif" font-size="32.58">μ</tspan><tspan dx="0.5">m</tspan></text>
<path d="M1472.3 279.1H1492.95M1526.9 279.1H1548.1" stroke="#00ff00" stroke-width="2.8" fill="none" stroke-linecap="round"/>
<polygon points="1509.4,261.35 1524.74,287.97 1494.06,287.97" fill="#00ff00"/>
<text transform="translate(1557.3 291.1) scale(1 1.0000)" font-family="'Liberation Sans',sans-serif" font-size="34.3" xml:space="preserve">Ring 80 to 120 <tspan dx="1.5" font-family="'Liberation Serif','DejaVu Serif',serif" font-size="32.58">μ</tspan><tspan dx="0.5">m</tspan></text>
<path d="M1472.3 321.7H1492.95M1526.9 321.7H1548.1" stroke="#0000ff" stroke-width="2.8" fill="none" stroke-linecap="round"/>
<polygon points="1509.7,339.45 1525.35,312.83 1494.05,312.83" fill="#0000ff"/>
<text transform="translate(1557.3 333.7) scale(1 1.0000)" font-family="'Liberation Sans',sans-serif" font-size="34.3" xml:space="preserve">Parallel period 24 <tspan dx="1.5" font-family="'Liberation Serif','DejaVu Serif',serif" font-size="32.58">μ</tspan><tspan dx="0.5">m</tspan></text>
<path d="M1472.3 364.3H1492.95M1526.9 364.3H1548.1" stroke="#00ffff" stroke-width="2.8" fill="none" stroke-linecap="round"/>
<polygon points="1509.4,347.97 1525.94,364.3 1509.4,380.63 1492.86,364.3" fill="#00ffff"/>
<text transform="translate(1557.3 376.3) scale(1 1.0000)" font-family="'Liberation Sans',sans-serif" font-size="34.3" xml:space="preserve">Disk 36 <tspan dx="1.5" font-family="'Liberation Serif','DejaVu Serif',serif" font-size="32.58">μ</tspan><tspan dx="0.5">m</tspan></text>
<path d="M1472.3 406.9H1492.95M1526.9 406.9H1548.1" stroke="#ff00ff" stroke-width="2.8" fill="none" stroke-linecap="round"/>
<polygon points="1491.96,407.2 1518.48,391.86 1518.48,422.54" fill="#ff00ff"/>
<text transform="translate(1557.3 418.9) scale(1 1.0000)" font-family="'Liberation Sans',sans-serif" font-size="34.3" xml:space="preserve">Ring 96 to 125 <tspan dx="1.5" font-family="'Liberation Serif','DejaVu Serif',serif" font-size="32.58">μ</tspan><tspan dx="0.5">m</tspan></text>
<rect x="2037.4" y="509.6" width="379.1" height="278.8" fill="#fff" stroke="none"/>
<path d="M2037.4 537.7H2416.5M2037.4 593.3H2416.5M2037.4 649H2416.5M2037.4 704.6H2416.5M2037.4 760.3H2416.5M2189.04 509.6V788.4M2340.68 509.6V788.4" stroke="#b4b4b4" stroke-width="1.4" stroke-dasharray="1.9 1.94" fill="none"/>
<path d="M2113.22 788.4V785.6M2113.22 509.6V512.4M2189.04 788.4V783.4M2189.04 509.6V514.6M2264.86 788.4V785.6M2264.86 509.6V512.4M2340.68 788.4V783.4M2340.68 509.6V514.6M2037.4 537.7H2042.4M2416.5 537.7H2411.5M2037.4 593.3H2042.4M2416.5 593.3H2411.5M2037.4 649H2042.4M2416.5 649H2411.5M2037.4 704.6H2042.4M2416.5 704.6H2411.5M2037.4 760.3H2042.4M2416.5 760.3H2411.5M2037.4 565.5H2040.2M2416.5 565.5H2413.7M2037.4 621.15H2040.2M2416.5 621.15H2413.7M2037.4 676.8H2040.2M2416.5 676.8H2413.7M2037.4 732.45H2040.2M2416.5 732.45H2413.7" stroke="#555" stroke-width="1.4" fill="none"/>
<rect x="2037.4" y="509.6" width="379.1" height="278.8" fill="none" stroke="#1a1a1a" stroke-width="1.4"/>
<path d="M2037.4 760L2044.98 759.1L2052.56 759.4L2060.15 759.7L2067.73 759.7L2075.31 758.7L2082.89 757.9L2090.47 758.8L2098.06 758.8L2105.64 758.8L2113.22 757.3L2120.8 757.3L2128.38 756.3L2135.97 756.3L2143.55 755.4L2151.13 755.4L2158.71 752.6L2166.29 748.8L2173.88 723.9L2181.46 542.4L2189.04 595.1L2196.62 571.7L2204.2 655.3L2211.79 629.4L2219.37 669.3L2226.95 599.8L2234.53 604.1L2242.11 688.6L2249.7 696.4L2257.28 745.1L2264.86 749.5L2272.44 752.6L2280.02 752.6L2287.61 754.1L2295.19 755.7L2302.77 756.3L2310.35 756.9L2317.93 757.9L2325.52 758.5L2333.1 758.2L2340.68 758.2L2348.26 759.1L2355.84 759.4L2363.43 760L2371.01 759.7L2378.59 759.7L2386.17 759.7L2393.75 758.8L2401.34 759.4L2408.92 758.5" stroke="#000" stroke-width="3.2" fill="none" stroke-linejoin="round" stroke-linecap="round"/>
<text x="0" y="0" font-family="'Liberation Sans',sans-serif" font-size="41.5" text-anchor="middle" transform="translate(2038.2 827.9) scale(1 1.0600)">1040</text>
<text x="0" y="0" font-family="'Liberation Sans',sans-serif" font-size="41.5" text-anchor="middle" transform="translate(2189.84 827.9) scale(1 1.0600)">1060</text>
<text x="0" y="0" font-family="'Liberation Sans',sans-serif" font-size="41.5" text-anchor="middle" transform="translate(2341.48 827.9) scale(1 1.0600)">1080</text>
<text x="2225.2" y="868.8" font-family="'DejaVu Sans',sans-serif" font-size="41.1" text-anchor="middle">Wavelength (nm)</text>
</svg></body></html>
